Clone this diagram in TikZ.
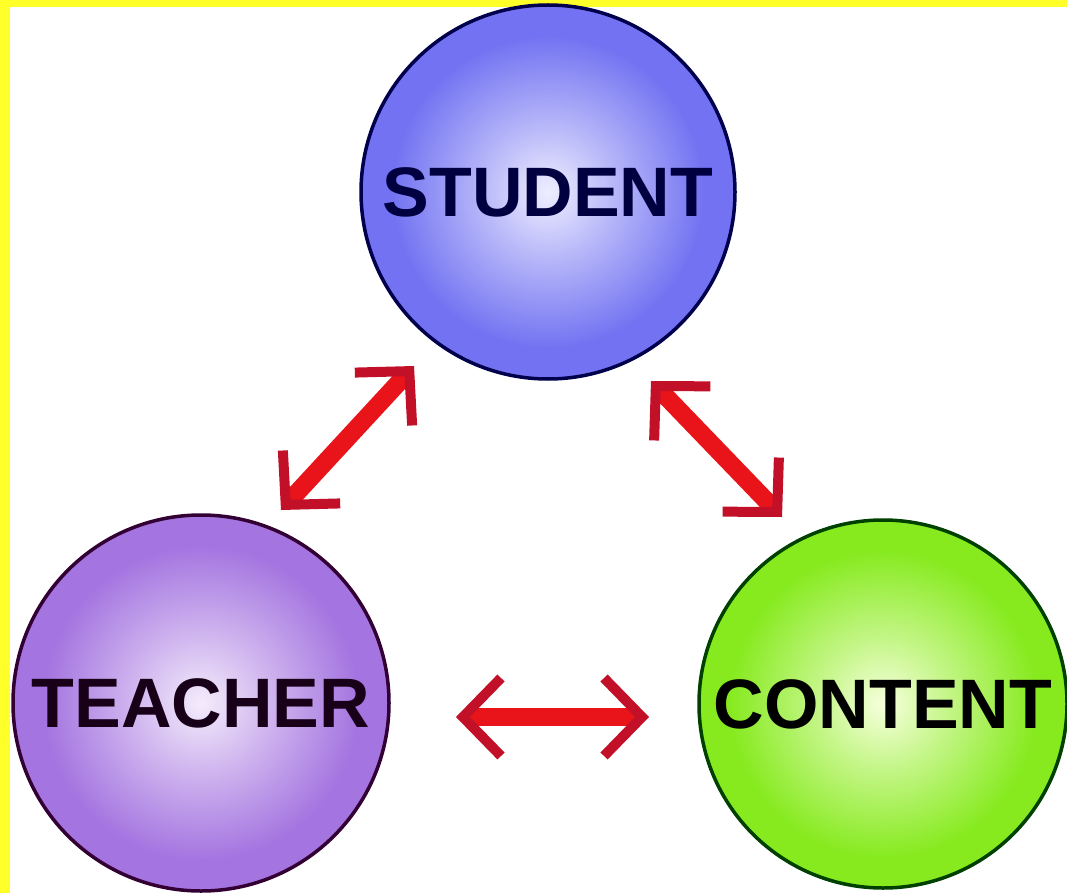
\documentclass[tikz,border=0pt]{standalone}
\usepackage{fontspec}
\setmainfont{Liberation Sans}
\usepackage{tikz}
\usetikzlibrary{arrows.meta, positioning}
\usepackage{xcolor}

\definecolor{frame}{HTML}{FFFF2A}
\definecolor{studentin}{HTML}{EEEEFF}
\definecolor{studentout}{HTML}{7272F2}
\definecolor{teacherin}{HTML}{F4ECFB}
\definecolor{teacherout}{HTML}{A474E0}
\definecolor{contentin}{HTML}{F6FFDC}
\definecolor{contentout}{HTML}{86EA1E}
\definecolor{linkred}{HTML}{E8141A}
\definecolor{tipred}{HTML}{C21028}

\pgfdeclareradialshading{studentball}{\pgfpointorigin}{color(0bp)=(studentin); color(9bp)=(studentin!55!studentout); color(21bp)=(studentout); color(50bp)=(studentout)}
\pgfdeclareradialshading{teacherball}{\pgfpointorigin}{color(0bp)=(teacherin); color(9bp)=(teacherin!55!teacherout); color(21bp)=(teacherout); color(50bp)=(teacherout)}
\pgfdeclareradialshading{contentball}{\pgfpointorigin}{color(0bp)=(contentin); color(9bp)=(contentin!55!contentout); color(21bp)=(contentout); color(50bp)=(contentout)}

\tikzset{chevron/.tip = {Straight Barb[length=38pt, width=78pt, line width=10pt,
                         line join=miter, color=tipred]}}

\begin{document}
\begin{tikzpicture}[x=1pt, y=-1pt,
    main/.style = {draw, circle, line width=3.5pt, inner sep=0pt,
                   font=\fontsize{70}{70}\selectfont\bfseries},
    link/.style = {draw=linkred, line width=18pt, chevron-chevron}]
      \useasboundingbox (0,0) rectangle (1067,893);
      \fill[white] (0,0) rectangle (1067,893);
      \fill[frame] (0,0) rectangle (1067,7);
      \fill[frame] (0,0) rectangle (10,893);

      \node[main, minimum size=374pt, shading=studentball, draw=blue!30!black, text=blue!25!black] (student) at (548,192) {STUDENT};
      \node[main, minimum size=376pt, shading=teacherball, draw=violet!40!black, text=violet!20!black] (teacher) at (201,703) {TEACHER};
      \node[main, minimum size=368pt, shading=contentball, draw=green!25!black, text=black] (content) at (883,704) {CONTENT};

      % arrow ends
      \coordinate (st) at (414,366);
      \coordinate (ts) at (281,510);
      \coordinate (sc) at (651,381);
      \coordinate (cs) at (782,517);
      \coordinate (tc) at (456,717);
      \coordinate (ct) at (649,717);

      \draw[link] (st) -- (ts);
      \draw[link] (sc) -- (cs);
      \draw[link] (tc) -- (ct);
\end{tikzpicture}
\end{document}
